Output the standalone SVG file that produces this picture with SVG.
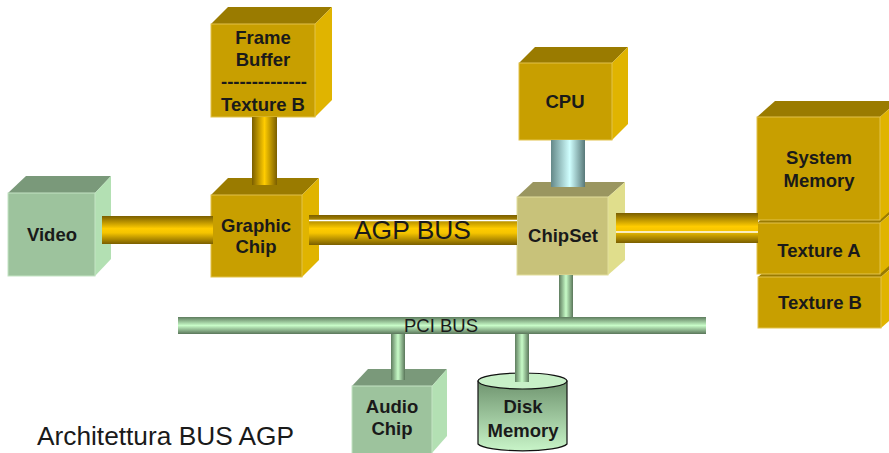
<svg xmlns="http://www.w3.org/2000/svg" width="889" height="453" viewBox="0 0 889 453">
  <defs>
    <!-- tube shading: horizontal tubes shade top-to-bottom, vertical tubes left-to-right -->
    <linearGradient id="goldH" x1="0" y1="0" x2="0" y2="1">
      <stop offset="0" stop-color="#7a5e00"/>
      <stop offset="0.45" stop-color="#ffcc00"/>
      <stop offset="0.6" stop-color="#f5c400"/>
      <stop offset="1" stop-color="#7a5e00"/>
    </linearGradient>
    <linearGradient id="goldV" x1="0" y1="0" x2="1" y2="0">
      <stop offset="0" stop-color="#7a5e00"/>
      <stop offset="0.5" stop-color="#ffcc00"/>
      <stop offset="1" stop-color="#7a5e00"/>
    </linearGradient>
    <linearGradient id="cyanV" x1="0" y1="0" x2="1" y2="0">
      <stop offset="0" stop-color="#648888"/>
      <stop offset="0.55" stop-color="#d0ffff"/>
      <stop offset="1" stop-color="#587878"/>
    </linearGradient>
    <linearGradient id="greenH" x1="0" y1="0" x2="0" y2="1">
      <stop offset="0" stop-color="#5e7c5e"/>
      <stop offset="0.5" stop-color="#c8fcc8"/>
      <stop offset="1" stop-color="#5a765a"/>
    </linearGradient>
    <linearGradient id="greenV" x1="0" y1="0" x2="1" y2="0">
      <stop offset="0" stop-color="#5e7c5e"/>
      <stop offset="0.5" stop-color="#c8fcc8"/>
      <stop offset="1" stop-color="#5a765a"/>
    </linearGradient>
    <linearGradient id="diskBody" x1="0" y1="0" x2="0" y2="1">
      <stop offset="0" stop-color="#6f946f"/>
      <stop offset="1" stop-color="#c8f4c8"/>
    </linearGradient>
  </defs>
  <style>
    .gold-front { fill: #c89f00; stroke: #e2c24a; stroke-width: 1; }
    .gold-top { fill: #9a7b00; }
    .gold-side { fill: #e0b400; }
    .green-front { fill: #9dc39d; stroke: #c4e4c4; stroke-width: 1; }
    .green-top { fill: #7a997a; }
    .green-side { fill: #b3e0b3; }
    .chip-front { fill: #c8c27a; stroke: #e2de9c; stroke-width: 1; }
    .chip-top { fill: #9a9660; }
    .chip-side { fill: #e0de8c; }
    .lbl { font-family: "Liberation Sans", Arial, sans-serif; font-weight: bold; font-size: 18.5px; fill: #1a1a1a; text-anchor: middle; }
    .bus { font-family: "Liberation Sans", Arial, sans-serif; fill: #1a1a1a; }
    .gap { stroke: #ffffff; stroke-width: 1.5; }
  </style>

  <rect width="889" height="453" fill="#ffffff"/>

  <!-- Video -->
  <g id="video">
    <polygon class="green-top" points="8,193 26,176 111,176 95,193"/>
    <polygon class="green-side" points="95,193 111,176 111,259 95,276"/>
    <rect class="green-front" x="8" y="193" width="87" height="83"/>
    <text class="lbl" x="52" y="241">Video</text>
  </g>

  <!-- Frame Buffer / Texture B -->
  <g id="frame-buffer">
    <polygon class="gold-top" points="211,24 228,7 332,7 315,24"/>
    <polygon class="gold-side" points="315,24 332,7 332,100 315,117"/>
    <rect class="gold-front" x="211" y="24" width="104" height="93"/>
    <text class="lbl" x="263" y="44">Frame</text>
    <text class="lbl" x="263" y="66">Buffer</text>
    <text class="lbl" x="264" y="88" textLength="86" lengthAdjust="spacing">--------------</text>
    <text class="lbl" x="263" y="111">Texture B</text>
  </g>

  <!-- Graphic Chip -->
  <g id="graphic-chip">
    <polygon class="gold-top" points="211,195 228,178 319,178 302,195"/>
    <polygon class="gold-side" points="302,195 319,178 319,260 302,277"/>
    <rect class="gold-front" x="211" y="195" width="91" height="82"/>
    <text class="lbl" x="256" y="232">Graphic</text>
    <text class="lbl" x="256" y="253">Chip</text>
  </g>

  <!-- CPU -->
  <g id="cpu">
    <polygon class="gold-top" points="519,63 535,47 628,47 612,63"/>
    <polygon class="gold-side" points="612,63 628,47 628,124 612,140"/>
    <rect class="gold-front" x="519" y="63" width="93" height="77"/>
    <text class="lbl" x="565" y="108">CPU</text>
  </g>

  <!-- ChipSet -->
  <g id="chipset">
    <polygon class="chip-top" points="517,197 533,182 625,182 608,197"/>
    <polygon class="chip-side" points="608,197 625,182 625,260 608,275"/>
    <rect class="chip-front" x="517" y="197" width="91" height="78"/>
    <text class="lbl" x="563" y="242">ChipSet</text>
  </g>

  <!-- Memory stack: drawn bottom-up so each upper box covers the one below -->
  <g id="texture-b-mem">
    <polygon class="gold-top" points="758,277 776,261 899,261 881,277"/>
    <polygon class="gold-side" points="881,277 899,261 899,312 881,328"/>
    <rect class="gold-front" x="758" y="277" width="123" height="51"/>
    <text class="lbl" x="820" y="309">Texture B</text>
  </g>
  <g id="texture-a">
    <polygon class="gold-top" points="757,223 775,207 898,207 880,223"/>
    <polygon class="gold-side" points="880,223 898,207 898,258 880,274"/>
    <rect class="gold-front" x="757" y="223" width="123" height="51"/>
    <text class="lbl" x="819" y="257">Texture A</text>
  </g>
  <g id="system-memory">
    <polygon class="gold-top" points="757,117 775,101 898,101 880,117"/>
    <polygon class="gold-side" points="880,117 898,101 898,204 880,220"/>
    <rect class="gold-front" x="757" y="117" width="123" height="103"/>
    <text class="lbl" x="819" y="164">System</text>
    <text class="lbl" x="819" y="187">Memory</text>
  </g>

  <!-- Audio Chip -->
  <g id="audio-chip">
    <polygon class="green-top" points="352,386 368,369 447,369 432,386"/>
    <polygon class="green-side" points="432,386 447,369 447,436 432,453"/>
    <rect class="green-front" x="352" y="386" width="80" height="68"/>
    <text class="lbl" x="392" y="413">Audio</text>
    <text class="lbl" x="392" y="435">Chip</text>
  </g>

  <!-- Disk Memory -->
  <g id="disk-memory">
    <path d="M478,381 L478,444 A45,8 0 0 0 567,444 L567,381 Z" fill="url(#diskBody)" stroke="#111" stroke-width="1.2"/>
    <ellipse cx="522.5" cy="381" rx="44.5" ry="8" fill="#c8f0c8" stroke="#111" stroke-width="1.2"/>
    <text class="lbl" x="523" y="413">Disk</text>
    <text class="lbl" x="523" y="437">Memory</text>
  </g>

  <!-- Connectors -->
  <g id="connectors">
    <!-- Video to Graphic Chip -->
    <rect x="102" y="216" width="111" height="28" fill="url(#goldH)"/>
    <!-- Frame Buffer to Graphic Chip -->
    <rect x="252" y="117" width="25" height="68" fill="url(#goldV)"/>
    <!-- AGP bus -->
    <rect x="309" y="215" width="208" height="30" fill="url(#goldH)"/>
    <line class="gap" x1="309" y1="220.5" x2="517" y2="220.5"/>
    <text class="bus" x="354" y="239" font-size="25" textLength="117" lengthAdjust="spacingAndGlyphs">AGP BUS</text>
    <!-- CPU to ChipSet -->
    <rect x="551" y="140" width="34" height="47" fill="url(#cyanV)"/>
    <!-- ChipSet to System Memory -->
    <rect x="616" y="213" width="142" height="30" fill="url(#goldH)"/>
    <line class="gap" x1="616" y1="232" x2="758" y2="232"/>
    <!-- PCI bus and its stems -->
    <rect x="559" y="275" width="14" height="42" fill="url(#greenV)"/>
    <rect x="178" y="317" width="528" height="17" fill="url(#greenH)"/>
    <rect x="391" y="334" width="14" height="46" fill="url(#greenV)"/>
    <rect x="515" y="334" width="14" height="48" fill="url(#greenV)"/>
    <text class="bus" x="404" y="332" font-size="18.5" textLength="74" lengthAdjust="spacingAndGlyphs">PCI BUS</text>
  </g>

  <text class="bus" x="37" y="445" font-size="25" textLength="257" lengthAdjust="spacingAndGlyphs">Architettura BUS AGP</text>
</svg>
